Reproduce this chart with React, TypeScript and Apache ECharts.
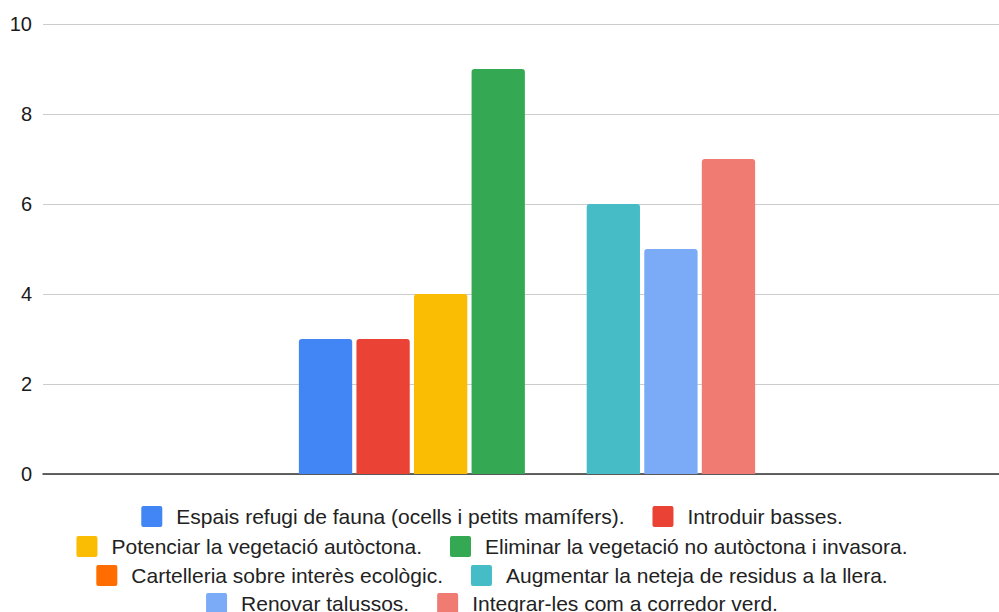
import React, { useEffect, useRef } from "react";
import * as echarts from "echarts";

const categories = [""];
const seriesNames = [
  "Espais refugi de fauna (ocells i petits mamífers).",
  "Introduir basses.",
  "Potenciar la vegetació autòctona.",
  "Eliminar la vegetació no autòctona i invasora.",
  "Cartelleria sobre interès ecològic.",
  "Augmentar la neteja de residus a la llera.",
  "Renovar talussos.",
  "Integrar-les com a corredor verd.",
];
const seriesValues = [3, 3, 4, 9, 0, 6, 5, 7];
const seriesColors = [
  "#4285F4",
  "#EA4335",
  "#FBBC04",
  "#34A853",
  "#FF6D01",
  "#46BDC6",
  "#7BAAF7",
  "#F07B72",
];
const yTicks = { min: 0, max: 10, interval: 2 };
const legendRows = [
  [0, 1],
  [2, 3],
  [4, 5],
  [6, 7],
];

const FONT = "'Liberation Sans', Arial, Helvetica, sans-serif";
const ICON =
  "path://M2,0 L19,0 Q21,0 21,2 L21,19 Q21,21 19,21 L2,21 Q0,21 0,19 L0,2 Q0,0 2,0 Z";

export default function App() {
  const ref = useRef<HTMLDivElement>(null);
  useEffect(() => {
    if (!ref.current) return;
    const chart = echarts.init(ref.current, undefined, { renderer: "svg" });
    const rowTops = [506, 536, 565, 593];
    chart.setOption({
      animation: false,
      backgroundColor: "#ffffff",
      textStyle: { fontFamily: FONT },
      grid: { left: 70, right: 0, top: 24, bottom: 138, containLabel: false },
      legend: legendRows.map((row, i) => ({
        data: row.map((k) => seriesNames[k]),
        left: "center",
        top: rowTops[i],
        padding: 0,
        itemWidth: 21,
        itemHeight: 21,
        itemGap: 28,
        icon: ICON,
        selectedMode: false,
        textStyle: {
          fontFamily: FONT,
          fontSize: 21,
          color: "#222222",
          padding: [0, 0, 0, 9],
        },
      })),
      xAxis: {
        type: "category",
        data: categories,
        axisLine: { show: true, lineStyle: { color: "#333333", width: 1.5 } },
        axisTick: { show: false },
        axisLabel: { show: false },
        splitLine: { show: false },
      },
      yAxis: {
        type: "value",
        min: yTicks.min,
        max: yTicks.max,
        interval: yTicks.interval,
        axisLine: { show: false },
        axisTick: { show: false },
        axisLabel: {
          margin: 11,
          fontFamily: FONT,
          fontSize: 20,
          color: "#1a1a1a",
        },
        splitLine: { lineStyle: { color: "#cccccc", width: 1.2 } },
      },
      series: seriesNames.map((name, i) => ({
        name,
        type: "bar",
        data: [seriesValues[i]],
        barWidth: 53.3,
        barGap: "8%",
        itemStyle: { color: seriesColors[i], borderRadius: [3, 3, 0, 0] },
        z: 2,
      })),
    });
    return () => chart.dispose();
  }, []);
  return (
    <div
      style={{
        position: "absolute",
        left: 0,
        top: 0,
        width: 999,
        height: 612,
        overflow: "hidden",
        background: "#ffffff",
      }}
    >
      <div
        ref={ref}
        style={{ position: "absolute", left: -27, top: 0, width: 1038, height: 612 }}
      />
    </div>
  );
}
